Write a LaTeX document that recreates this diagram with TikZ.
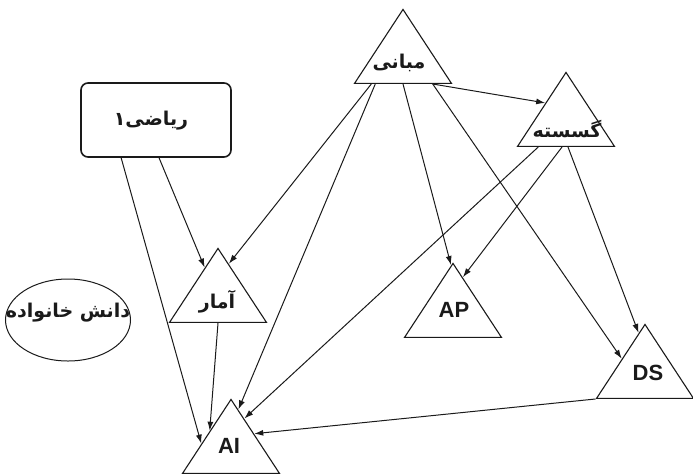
\documentclass[tikz,border=0pt]{standalone}
\usepackage{fontspec}
\usetikzlibrary{shapes.geometric,calc,arrows.meta}
\TeXXeTstate=1
\newfontfamily\fa[Script=Arabic]{DejaVu Sans}
\newfontfamily\lat{Liberation Sans}
\definecolor{ink}{HTML}{1A1A1A}
\tikzset{
  tri/.style={draw=ink, line width=1.1pt, isosceles triangle, shape border rotate=90,
    isosceles triangle stretches, minimum width=97pt, minimum height=74pt,
    inner sep=0pt, anchor=apex},
  fatext/.style={font=\fa\bfseries\fontsize{19}{22}\selectfont, text=ink, inner sep=0pt},
  latext/.style={font=\lat\bfseries\fontsize{22}{26}\selectfont, text=ink, inner sep=0pt},
  arr/.style={draw=ink, line width=1pt, -{Latex[length=9pt,width=6pt]}},
}
\begin{document}
\begin{tikzpicture}[x=1pt,y=-1pt]
\useasboundingbox (0,0) rectangle (693,475);
% triangles
\node[tri] (mabani) at (403,8) {};
\node[tri] (gos) at (566,71) {};
\node[tri] (amar) at (218,247) {};
\node[tri] (ai) at (231,398) {};
\node[tri] (ap) at (453,262) {};
\node[tri] (ds) at (645,323) {};
% texts inside triangles
\node[fatext] (mabanit) at ($(mabani.apex)+(-4,55)$) {\beginR مبانی\endR};
\node[fatext] (gost) at ($(gos.apex)+(1,58)$) {\beginR گسسته\endR};
\node[fatext] (amart) at ($(amar.apex)+(-1,55)$) {\beginR آمار\endR};
\node[latext] (ait) at ($(ai.apex)+(-2,48)$) {AI};
\node[latext] (apt) at ($(ap.apex)+(1,48)$) {AP};
\node[latext] (dst) at ($(ds.apex)+(3,50)$) {DS};
% box and ellipse
\node[draw=ink, line width=1.6pt, rounded corners=7pt, minimum width=150pt, minimum height=74pt, inner sep=0pt] (riazi) at (156,120) {};
\node[fatext] (riazit) at (151,121) {\beginR ریاضی۱\endR};
\node[draw=ink, line width=1pt, ellipse, minimum width=125pt, minimum height=82pt, inner sep=0pt] (danesh) at (68,320) {};
\node[fatext] (danesht) at (68,313) {\beginR دانش خانواده\endR};
% connectors
\draw[arr] ($(mabani.left corner)!0.18!(mabani.right corner)$) -- ($(amar.apex)!0.22!(amar.right corner)$);
\draw[arr] ($(mabani.left corner)!0.22!(mabani.right corner)$) -- ($(ai.apex)!0.15!(ai.right corner)$);
\draw[arr] ($(mabani.left corner)!0.5!(mabani.right corner)$) -- ($(ap.apex)!0.04!(ap.left corner)$);
\draw[arr] ($(mabani.left corner)!0.8!(mabani.right corner)$) -- ($(ds.apex)!0.47!(ds.left corner)$);
\draw[arr] ($(mabani.left corner)!0.8!(mabani.right corner)$) -- ($(gos.apex)!0.42!(gos.left corner)$);
\draw[arr] ($(gos.left corner)!0.22!(gos.right corner)$) -- ($(ai.apex)!0.27!(ai.right corner)$);
\draw[arr] ($(gos.left corner)!0.46!(gos.right corner)$) -- ($(ap.apex)!0.2!(ap.right corner)$);
\draw[arr] ($(gos.left corner)!0.52!(gos.right corner)$) -- ($(ds.apex)!0.13!(ds.left corner)$);
\draw[arr] ($(riazi.south west)!0.27!(riazi.south east)$) -- ($(ai.apex)!0.6!(ai.left corner)$);
\draw[arr] ($(riazi.south west)!0.52!(riazi.south east)$) -- ($(amar.apex)!0.27!(amar.left corner)$);
\draw[arr] (amar.lower side) -- ($(ai.apex)!0.43!(ai.left corner)$);
\draw[arr] (ds.left corner) -- ($(ai.apex)!0.47!(ai.right corner)$);
\end{tikzpicture}
\end{document}
